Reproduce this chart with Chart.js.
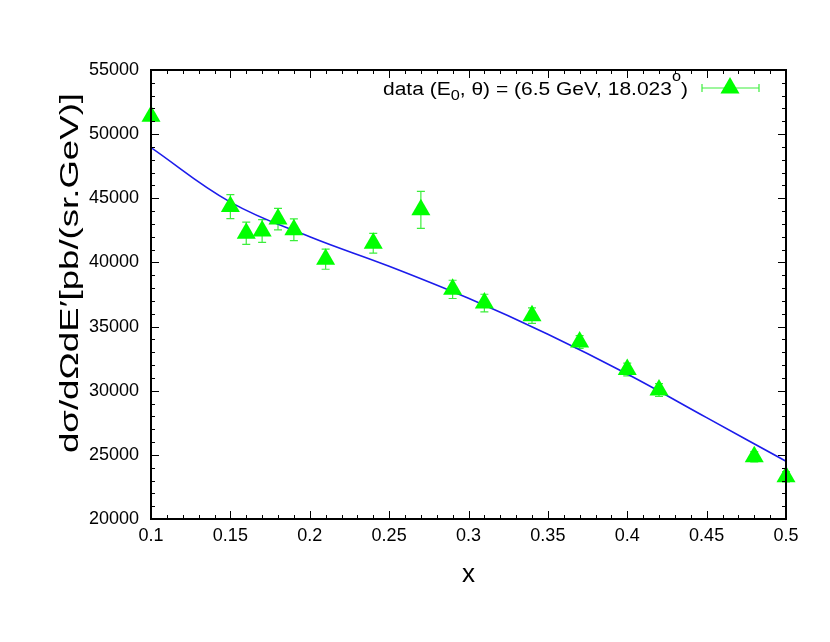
<!DOCTYPE html>
<html>
<head>
<meta charset="utf-8">
<script src="https://cdn.jsdelivr.net/npm/chart.js@4.4.1/dist/chart.umd.min.js"></script>
<style>
  html, body { margin: 0; padding: 0; background: #fff; }
  #wrap { width: 830px; height: 642px; }
</style>
</head>
<body>
<div id="wrap"><canvas id="xsec" width="830" height="642"></canvas></div>
<script>
// measured points
const xData = [0.10, 0.15, 0.16, 0.17, 0.18, 0.19, 0.21, 0.24, 0.27, 0.29, 0.31, 0.34, 0.37, 0.40, 0.42, 0.48, 0.50];
const sigma = [51400, 44350, 42270, 42450, 43380, 42550, 40250, 41500, 44100, 37900, 36830, 35850, 33800, 31650, 30050, 24850, 23300];
const sigmaErr = [0, 930, 870, 880, 840, 850, 780, 770, 1440, 710, 690, 600, 500, 500, 500, 400, 400];

// model curve
const xModel = [0.10, 0.15, 0.20, 0.25, 0.30, 0.35, 0.40, 0.45, 0.50];
const sigmaModel = [48950, 44700, 42000, 39700, 37200, 34400, 31300, 27900, 24500];

const xTicks = [0.1, 0.15, 0.2, 0.25, 0.3, 0.35, 0.4, 0.45, 0.5];
const xTickLabels = ['0.1', '0.15', '0.2', '0.25', '0.3', '0.35', '0.4', '0.45', '0.5'];
const yTicks = [20000, 25000, 30000, 35000, 40000, 45000, 50000, 55000];
const yTickLabels = ['20000', '25000', '30000', '35000', '40000', '45000', '50000', '55000'];
const xMinorStep = 0.01;
const yMinorStep = 1000;

const xTitle = 'x';
const yTitle = 'dσ/dΩdE′[pb/(sr.GeV)]';
// [text, 0 normal / 1 subscript / 2 superscript]
const legendParts = [['data (E', 0], ['0', 1], [', θ) = (6.5 GeV, 18.023', 0], ['o', 2], [')', 0]];

const FONT = '"Liberation Sans", Arial, sans-serif';
const GREEN = '#00ff00';
const ERR_GREEN = '#3cee3c';
const BLUE = 'rgb(28,28,235)';

const errorBars = {
  id: 'errorBars',
  beforeDatasetsDraw(chart) {
    const { ctx, scales: { x, y } } = chart;
    ctx.save();
    ctx.strokeStyle = ERR_GREEN;
    ctx.lineWidth = 1.2;
    xData.forEach((xv, i) => {
      if (!sigmaErr[i]) return;
      const px = x.getPixelForValue(xv);
      const top = y.getPixelForValue(sigma[i] + sigmaErr[i]);
      const bot = y.getPixelForValue(sigma[i] - sigmaErr[i]);
      ctx.beginPath();
      ctx.moveTo(px, top); ctx.lineTo(px, bot);
      ctx.moveTo(px - 4, top); ctx.lineTo(px + 4, top);
      ctx.moveTo(px - 4, bot); ctx.lineTo(px + 4, bot);
      ctx.stroke();
    });
    ctx.restore();
  }
};

const frame = {
  id: 'frame',
  afterDatasetsDraw(chart) {
    const { ctx, chartArea: a, scales: { x, y } } = chart;
    ctx.save();
    ctx.strokeStyle = '#000';
    ctx.lineWidth = 1;
    ctx.beginPath();
    for (let v = x.min; v <= x.max + 1e-9; v += xMinorStep) {
      const px = Math.round(x.getPixelForValue(v)) + 0.5;
      const major = xTicks.some(t => Math.abs(t - v) < 1e-6);
      const len = major ? 8 : 4;
      ctx.moveTo(px, a.bottom); ctx.lineTo(px, a.bottom - len);
      ctx.moveTo(px, a.top); ctx.lineTo(px, a.top + len);
    }
    for (let v = y.min; v <= y.max; v += yMinorStep) {
      const py = Math.round(y.getPixelForValue(v)) + 0.5;
      const major = yTicks.includes(v);
      const len = major ? 8 : 4;
      ctx.moveTo(a.left, py); ctx.lineTo(a.left + len, py);
      ctx.moveTo(a.right, py); ctx.lineTo(a.right - len, py);
    }
    ctx.stroke();
    ctx.lineWidth = 2;
    ctx.strokeRect(a.left, a.top, a.right - a.left, a.bottom - a.top);
    ctx.restore();
  },
  afterDraw(chart) {
    const { ctx, chartArea: a } = chart;
    ctx.save();
    ctx.fillStyle = '#000';

    // x title
    ctx.font = '26px ' + FONT;
    ctx.textAlign = 'center';
    ctx.textBaseline = 'middle';
    ctx.fillText(xTitle, (a.left + a.right) / 2, 575);

    // y title, stretched along its length
    ctx.font = '26px ' + FONT;
    const yw = ctx.measureText(yTitle).width;
    ctx.translate(71, 273);
    ctx.rotate(-Math.PI / 2);
    ctx.scale(360 / yw, 1);
    ctx.fillText(yTitle, 0, 0);
    ctx.setTransform(1, 0, 0, 1, 0, 0);

    // legend text
    ctx.textAlign = 'left';
    ctx.textBaseline = 'alphabetic';
    const main = '18px ' + FONT, small = '14px ' + FONT;
    let total = 0;
    legendParts.forEach(([t, k]) => { ctx.font = k ? small : main; total += ctx.measureText(t).width; });
    const sx = 305 / total;
    let cx = 383;
    const base = 95;
    legendParts.forEach(([t, k]) => {
      ctx.font = k ? small : main;
      const dy = k === 1 ? 5 : k === 2 ? -14 : 0;
      ctx.save();
      ctx.translate(cx, base + dy);
      ctx.scale(sx, 1);
      ctx.fillText(t, 0, 0);
      ctx.restore();
      cx += ctx.measureText(t).width * sx;
    });

    // legend sample
    const ly = 88;
    ctx.strokeStyle = ERR_GREEN;
    ctx.lineWidth = 1.2;
    ctx.beginPath();
    ctx.moveTo(702, ly); ctx.lineTo(759, ly);
    ctx.moveTo(702, ly - 4); ctx.lineTo(702, ly + 4);
    ctx.moveTo(759, ly - 4); ctx.lineTo(759, ly + 4);
    ctx.stroke();
    ctx.fillStyle = GREEN;
    const r = 11;
    ctx.beginPath();
    ctx.moveTo(730, ly - r);
    ctx.lineTo(730 + r * Math.sin(Math.PI / 3), ly + r / 2);
    ctx.lineTo(730 - r * Math.sin(Math.PI / 3), ly + r / 2);
    ctx.closePath();
    ctx.fill();
    ctx.restore();
  }
};

new Chart(document.getElementById('xsec'), {
  type: 'scatter',
  data: {
    datasets: [{
      label: 'data',
      data: xData.map((xv, i) => ({ x: xv, y: sigma[i] })),
      pointStyle: 'triangle',
      pointRadius: 11,
      pointHoverRadius: 11,
      backgroundColor: GREEN,
      borderColor: GREEN,
      borderWidth: 0,
      clip: false,
      order: 0
    }, {
      label: 'model',
      type: 'line',
      data: xModel.map((xv, i) => ({ x: xv, y: sigmaModel[i] })),
      showLine: true,
      borderColor: BLUE,
      borderWidth: 1.6,
      pointRadius: 0,
      tension: 0.4,
      fill: false,
      order: 1
    }]
  },
  options: {
    responsive: false,
    animation: false,
    events: [],
    layout: { padding: { left: 0, right: 44, top: 70, bottom: 0 } },
    plugins: {
      legend: { display: false },
      tooltip: { enabled: false },
      title: { display: false }
    },
    scales: {
      x: {
        type: 'linear',
        min: 0.1,
        max: 0.5,
        afterFit(scale) { scale.height = 123; },
        afterBuildTicks(scale) { scale.ticks = xTicks.map(v => ({ value: v })); },
        grid: { display: false, drawTicks: false },
        border: { display: false },
        ticks: {
          padding: 6,
          color: '#000',
          font: { family: FONT, size: 18 },
          maxRotation: 0,
          autoSkip: false,
          callback: (v, i) => xTickLabels[i]
        }
      },
      y: {
        type: 'linear',
        min: 20000,
        max: 55000,
        afterFit(scale) { scale.width = 151; },
        afterBuildTicks(scale) { scale.ticks = yTicks.map(v => ({ value: v })); },
        grid: { display: false, drawTicks: false },
        border: { display: false },
        ticks: {
          padding: 12,
          color: '#000',
          font: { family: FONT, size: 18 },
          autoSkip: false,
          callback: (v, i) => yTickLabels[i]
        }
      }
    }
  },
  plugins: [errorBars, frame]
});
</script>
</body>
</html>
